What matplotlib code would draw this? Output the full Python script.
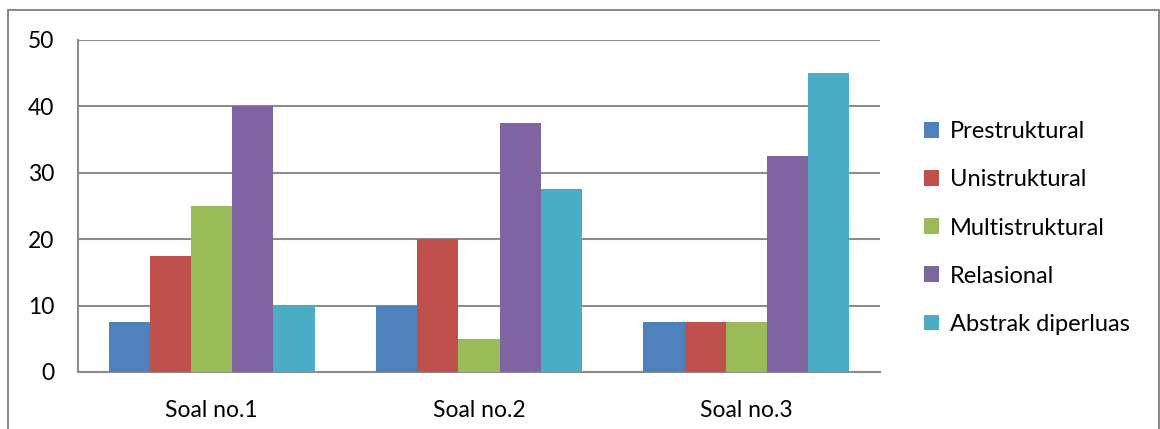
import matplotlib
matplotlib.use("Agg")
import matplotlib.pyplot as plt
import numpy as np
from matplotlib.patches import Rectangle

categories = ["Soal no.1", "Soal no.2", "Soal no.3"]
series_names = ["Prestruktural", "Unistruktural", "Multistruktural",
                "Relasional", "Abstrak diperluas"]
prestruktural = [7.5, 10, 7.5]
unistruktural = [17.5, 20, 7.5]
multistruktural = [25, 5, 7.5]
relasional = [40, 37.5, 32.5]
abstrak_diperluas = [10, 27.5, 45]
y_ticks = [0, 10, 20, 30, 40, 50]

series = [prestruktural, unistruktural, multistruktural, relasional, abstrak_diperluas]
colors = ["#4F81BD", "#C0504D", "#9BBB59", "#8064A2", "#4BACC6"]

plt.rcParams["font.family"] = ["Lato", "DejaVu Sans"]

fig = plt.figure(figsize=(11.6, 4.29), dpi=100)
ax = fig.add_axes([0.0672, 0.1329, 0.6914, 0.7739])

x = np.arange(len(categories))
bar_w = 0.154
handles = []
for i, (vals, col) in enumerate(zip(series, colors)):
    h = ax.bar(x + (i - 2) * bar_w, vals, width=bar_w, color=col,
               edgecolor="none", zorder=3, label=series_names[i])
    handles.append(h)

ax.set_xlim(-0.5, 2.5)
ax.set_ylim(0, 50)
ax.set_yticks(y_ticks)
ax.set_xticks(x)
ax.set_xticklabels(categories)
ax.yaxis.grid(True, color="#8C8C8C", linewidth=1.5, zorder=1)
ax.tick_params(axis="both", length=0, labelsize=16.5, colors="black")
ax.tick_params(axis="y", pad=17)
ax.tick_params(axis="x", pad=20)

for s in ("top", "right"):
    ax.spines[s].set_visible(False)
for s in ("left", "bottom"):
    ax.spines[s].set_color("#8C8C8C")
    ax.spines[s].set_linewidth(1.5)

leg = fig.legend(handles=handles, labels=series_names, loc="upper left",
                 bbox_to_anchor=(0.778, 0.767), frameon=False, fontsize=17,
                 handlelength=0.65, handleheight=0.65, handletextpad=0.45,
                 labelspacing=1.15)

# Outer chart frame
fig.patches.append(Rectangle((8 / 1160, -0.05), 1150.5 / 1160, 1.05 - 10.5 / 429,
                             transform=fig.transFigure, fill=False,
                             edgecolor="#8C8C8C", linewidth=1.5))

fig.savefig("out.png", dpi=100)
